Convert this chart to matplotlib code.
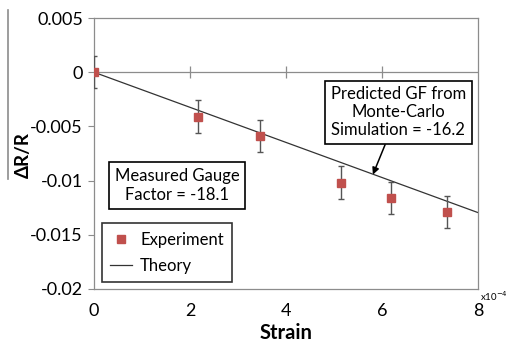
import matplotlib.pyplot as plt
from matplotlib.lines import Line2D
import numpy as np

# experiment points (strain in units of 1e-4)
strain = [0.0, 2.17, 3.46, 5.15, 6.19, 7.35]
dr_r = [0.0, -0.0041, -0.0059, -0.0102, -0.0116, -0.0129]
err = [0.0015, 0.0015, 0.0015, 0.0015, 0.0015, 0.0015]

# theory line from predicted gauge factor
gf_pred = -16.2
theory_x = [0.0, 8.0]
theory_y = [gf_pred * v * 1e-4 for v in theory_x]

xticks = [0, 2, 4, 6, 8]
yticks = [0.005, 0, -0.005, -0.01, -0.015, -0.02]
ytick_labels = ['0.005', '0', '-0.005', '-0.01', '-0.015', '-0.02']

plt.rcParams['font.family'] = ['Lato', 'DejaVu Sans']

fig = plt.figure(figsize=(5.09, 3.48), dpi=100)
ax = fig.add_axes([0.1847, 0.170, 0.7544, 0.778])

grey = '#8c8c8c'
red = '#c0504d'
line_col = '#333333'

ax.plot(theory_x, theory_y, color=line_col, lw=0.9, zorder=2)
ax.errorbar(strain, dr_r, yerr=err, fmt='s', color=red, ms=6,
            ecolor='#555555', elinewidth=1, capsize=2.5, capthick=1,
            zorder=3)

ax.set_xlim(0, 8)
ax.set_ylim(-0.02, 0.005)
ax.set_xticks(xticks)
ax.set_xticklabels([str(t) for t in xticks], fontsize=13)
ax.set_yticks(yticks)
ax.set_yticklabels(ytick_labels, fontsize=13)
ax.tick_params(axis='x', length=0, pad=10)
ax.tick_params(axis='y', length=4, color=grey, direction='out', pad=4)
for s in ax.spines.values():
    s.set_color(grey)
    s.set_linewidth(0.9)

# horizontal axis crossing at zero with its tick marks
ax.axhline(0, color=grey, lw=0.9, zorder=1)
ax.plot(xticks[1:-1], [0] * 3, ls='none', marker='|', ms=9, mew=0.9,
        color=grey, zorder=1)

ax.set_xlabel('Strain', fontsize=14.5, fontweight='bold')
ax.xaxis.set_label_coords(0.5, -0.125)
fig.text(0.045, 0.555, 'ΔR/R', rotation=90, fontsize=13.5, fontweight='bold',
         ha='center', va='center')
fig.add_artist(Line2D([0.016, 0.016], [0.97, 0.485], color=grey, lw=1.2))
ax.text(1.004, -0.028, 'x10$^{-4}$', transform=ax.transAxes, fontsize=7,
        ha='left', va='center')

box = dict(boxstyle='square,pad=0.35', fc='white', ec='black', lw=1.2)
ax.text(1.73, -0.01046, 'Measured Gauge\nFactor = -18.1', fontsize=12,
        ha='center', va='center', bbox=box, linespacing=1.2)
ax.annotate('Predicted GF from\nMonte-Carlo\nSimulation = -16.2',
            xy=(5.81, -0.00945), xytext=(6.34, -0.0037), fontsize=12,
            ha='center', va='center', bbox=box, linespacing=1.15,
            arrowprops=dict(arrowstyle='-|>', color='black', lw=1.1,
                            mutation_scale=10, shrinkA=0, shrinkB=0))

handles = [Line2D([], [], ls='none', marker='s', color=red, ms=6),
           Line2D([], [], color=line_col, lw=0.9)]
leg = ax.legend(handles, ['Experiment', 'Theory'], loc='lower left',
                bbox_to_anchor=(0.02, 0.025), fontsize=12, frameon=True,
                fancybox=False, edgecolor='black', handlelength=1.3,
                borderpad=0.5, labelspacing=0.6, handletextpad=0.5,
                borderaxespad=0)
leg.get_frame().set_linewidth(1.2)

fig.savefig('out.png', dpi=100)
